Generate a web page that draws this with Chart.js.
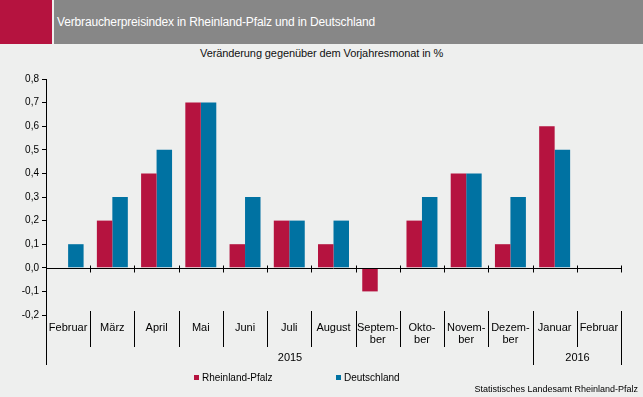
<!DOCTYPE html>
<html lang="de">
<head>
    <meta charset="UTF-8">
    <title>Verbraucherpreisindex</title>
    <style>
        body { margin: 0; background: #eeefee; font-family: "Liberation Sans", Arial, sans-serif; width: 643px; height: 397px; overflow: hidden; position: relative; }
        .head-red { position: absolute; left: 0; top: 0; width: 52px; height: 44px; background: #b5133f; }
        .head-bar { position: absolute; left: 54px; top: 0; width: 589px; height: 44px; background: #878787; }
        .head-bar span { position: absolute; left: 3px; top: 15px; color: #fff; font-size: 12px; letter-spacing: -0.15px; }
        .subtitle { position: absolute; left: 200px; top: 47px; font-size: 11px; color: #111; letter-spacing: -0.1px; }
        .chart-box { position: absolute; left: 0; top: 44px; width: 643px; height: 353px; }
    </style>
</head>
<body>
    <div class="head-red"></div>
    <div class="head-bar"><span>Verbraucherpreisindex in Rheinland-Pfalz und in Deutschland</span></div>
    <div class="subtitle">Veränderung gegenüber dem Vorjahresmonat in %</div>
    <div class="chart-box"><canvas id="chart"></canvas></div>

    <script src="https://cdn.jsdelivr.net/npm/chart.js"></script>
    <script>
        // Monate Feb 2015 bis Feb 2016
        const months = ['Februar', 'März', 'April', 'Mai', 'Juni', 'Juli', 'August',
            ['Septem-', 'ber'], ['Okto-', 'ber'], ['Novem-', 'ber'], ['Dezem-', 'ber'], 'Januar', 'Februar'];
        const rlp = [null, 0.2, 0.4, 0.7, 0.1, 0.2, 0.1, -0.1, 0.2, 0.4, 0.1, 0.6, null];
        const de = [0.1, 0.3, 0.5, 0.7, 0.3, 0.2, 0.2, 0.0, 0.3, 0.4, 0.3, 0.5, null];
        const years = ['2015', '2016'];
        const yearStart = [0, 11];
        const yearEnd = [10, 12];
        const source = 'Statistisches Landesamt Rheinland-Pfalz';

        const RED = '#b5133f';
        const BLUE = '#0072a2';
        const FONT = '"Liberation Sans", Arial, sans-serif';

        const decorations = {
            id: 'decorations',
            afterDraw(chart) {
                const ctx = chart.ctx;
                const x = chart.scales.x;
                const y = chart.scales.y;
                const area = chart.chartArea;
                const half = (x.getPixelForValue(1) - x.getPixelForValue(0)) / 2;
                const edge = i => Math.round(x.getPixelForValue(i) - half) + 0.5;
                const y0 = Math.round(y.getPixelForValue(0)) + 0.5;
                const labTop = area.bottom - 4;
                const labBottom = labTop + 36;
                const yearBottom = labTop + 54;

                ctx.save();
                ctx.strokeStyle = '#000';
                ctx.lineWidth = 1;

                // Nulllinie mit Strichen an den Kategoriegrenzen
                ctx.beginPath();
                ctx.moveTo(area.left, y0);
                ctx.lineTo(area.right, y0);
                for (let i = 1; i <= months.length; i++) {
                    ctx.moveTo(edge(i), y0 - 3);
                    ctx.lineTo(edge(i), y0 + 4);
                }
                // linke Achse nach unten verlaengert
                ctx.moveTo(edge(0), area.bottom);
                ctx.lineTo(edge(0), yearBottom);
                // Trennlinien der Monate
                for (let i = 1; i <= months.length; i++) {
                    ctx.moveTo(edge(i), labTop);
                    ctx.lineTo(edge(i), labBottom);
                }
                // Trennlinien der Jahre
                yearEnd.forEach(e => {
                    ctx.moveTo(edge(e + 1), labBottom);
                    ctx.lineTo(edge(e + 1), yearBottom);
                });
                ctx.stroke();

                // Monatsnamen
                ctx.fillStyle = '#000';
                ctx.font = '11px ' + FONT;
                ctx.textAlign = 'center';
                ctx.textBaseline = 'top';
                months.forEach((m, i) => {
                    const lines = Array.isArray(m) ? m : [m];
                    lines.forEach((t, j) => ctx.fillText(t, x.getPixelForValue(i), labTop + 11 + j * 12));
                });

                // Jahre
                years.forEach((t, k) => {
                    const cx = (edge(yearStart[k]) + edge(yearEnd[k] + 1)) / 2;
                    ctx.fillText(t, cx, labBottom + 5);
                });

                // Legende
                ctx.font = '10px ' + FONT;
                ctx.textAlign = 'left';
                ctx.textBaseline = 'middle';
                const legY = yearBottom + 13;
                const legX = [194, 336];
                chart.data.datasets.forEach((ds, k) => {
                    ctx.fillStyle = ds.backgroundColor;
                    ctx.fillRect(legX[k], legY - 3, 5, 5);
                    ctx.fillStyle = '#000';
                    ctx.fillText(ds.label, legX[k] + 8, legY);
                });

                // Quelle
                ctx.font = '9px ' + FONT;
                ctx.textAlign = 'right';
                ctx.fillText(source, 638, legY + 12);
                ctx.restore();
            }
        };

        new Chart(document.getElementById('chart').getContext('2d'), {
            type: 'bar',
            data: {
                labels: months,
                datasets: [
                    { label: 'Rheinland-Pfalz', data: rlp, backgroundColor: RED },
                    { label: 'Deutschland', data: de, backgroundColor: BLUE }
                ]
            },
            options: {
                responsive: true,
                maintainAspectRatio: false,
                animation: false,
                layout: { padding: { left: 0, right: 22, top: 35, bottom: 82 } },
                datasets: { bar: { categoryPercentage: 0.7, barPercentage: 1.0 } },
                plugins: {
                    legend: { display: false },
                    tooltip: { enabled: false }
                },
                scales: {
                    x: { display: false, offset: true },
                    y: {
                        min: -0.2,
                        max: 0.8,
                        afterFit(scale) { scale.width = 46; },
                        grid: { drawOnChartArea: false, drawTicks: true, tickLength: 4, color: '#000' },
                        border: { display: true, color: '#000', width: 1 },
                        ticks: {
                            stepSize: 0.1,
                            padding: 3,
                            color: '#000',
                            font: { family: FONT, size: 10 },
                            callback: v => v.toFixed(1).replace('.', ',')
                        }
                    }
                }
            },
            plugins: [decorations]
        });
    </script>
</body>
</html>
